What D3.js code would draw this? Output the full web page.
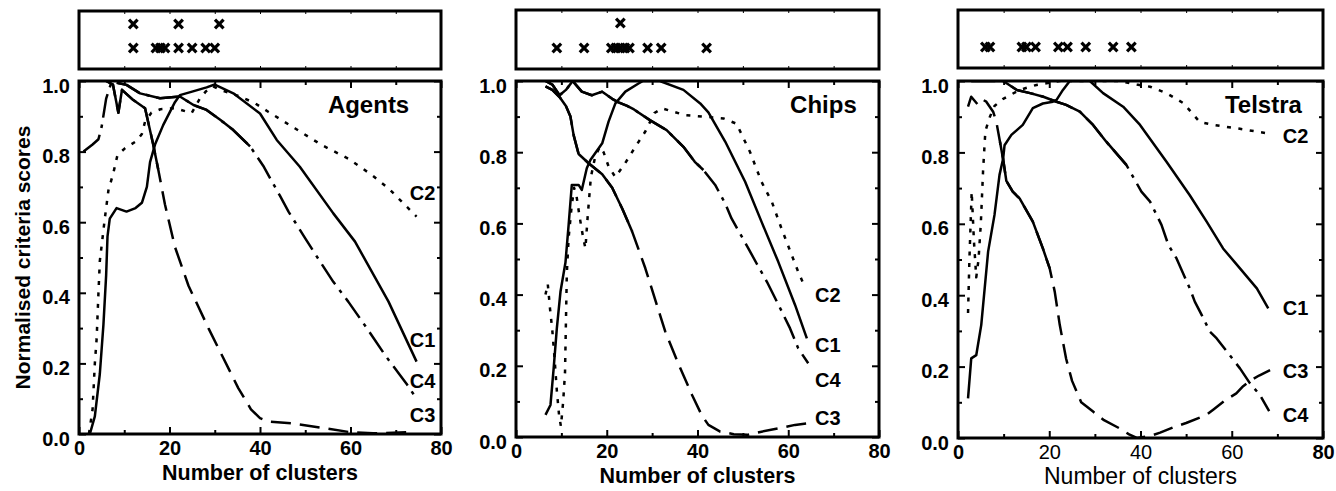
<!DOCTYPE html>
<html><head><meta charset="utf-8">
<script src="https://cdn.jsdelivr.net/npm/d3@7"></script>
<style>
html,body{margin:0;padding:0;background:#fff;}
svg{display:block;}
text{font-family:"Liberation Sans",Arial,Helvetica,sans-serif;fill:#000;}
</style></head>
<body><svg id="chart" width="1336" height="491"></svg>
<script>
// ---------- DATA ----------
const datasets = ["Agents", "Chips", "Telstra"];
const seriesNames = ["C1", "C2", "C3", "C4"];
const xTickValues = [0, 20, 40, 60, 80];
const xTickLabels = ["0", "20", "40", "60", "80"];
const xMinorTicks = [10, 30, 50, 70];
const yTickValues = [0, 0.2, 0.4, 0.6, 0.8, 1.0];
const yTickLabels = ["0.0", "0.2", "0.4", "0.6", "0.8", "1.0"];
const yMinorTicks = [0.1, 0.3, 0.5, 0.7, 0.9];
const xTitle = "Number of clusters";
const yTitle = "Normalised criteria scores";

// Agents
const agentsC1 = [[2.4,0],[3.5,0.05],[4.6,0.17],[5.4,0.31],[6,0.45],[6.3,0.56],[6.8,0.61],[8.3,0.64],[10.5,0.63],[12.5,0.64],[13.9,0.655],[15,0.7],[15.7,0.77],[16.8,0.82],[18.6,0.875],[21.2,0.94],[22.3,0.96],[25,0.97],[28.2,0.982],[30,0.99],[34.1,0.965],[40,0.908],[43.7,0.833],[48.8,0.757],[56.2,0.625],[61,0.545],[68.4,0.375],[74.6,0.205]];
const agentsC2 = [[2.2,0],[3,0.07],[3.5,0.2],[3.9,0.27],[4.3,0.4],[4.6,0.49],[5.7,0.61],[6.5,0.69],[7.6,0.74],[8.5,0.79],[10.2,0.81],[12.7,0.83],[13.9,0.85],[14.6,0.885],[16,0.91],[18,0.92],[21.2,0.923],[24.9,0.909],[26.7,0.95],[28,0.97],[29.6,0.985],[31.2,0.975],[35.6,0.956],[38.9,0.937],[41.8,0.913],[47.7,0.866],[53.6,0.819],[59.5,0.78],[64.7,0.734],[68.4,0.696],[74.6,0.616]];
const agentsC3 = [[6,1.0],[7.5,0.99],[8.7,0.91],[9.5,0.975],[12,0.946],[14.6,0.923],[16.4,0.82],[17.5,0.75],[19,0.65],[21.2,0.53],[24.2,0.42],[28.6,0.3],[31.2,0.233],[35.2,0.13],[38,0.07],[40,0.045],[42,0.035],[47,0.03],[54,0.017],[60,0.005],[65,0.002],[73,0.005]];
const agentsC4 = [[1,0.8],[2,0.81],[3,0.82],[4.3,0.835],[5,0.87],[6,0.95],[7,0.99],[8.3,0.995],[10.5,0.989],[13.5,0.965],[17.9,0.951],[22.3,0.956],[25.3,0.932],[28.2,0.918],[31.2,0.89],[34.1,0.861],[37.8,0.815],[40.7,0.76],[44.4,0.675],[46.3,0.63],[50,0.554],[53.3,0.488],[56.2,0.431],[59.5,0.375],[63.6,0.3],[67.6,0.224],[72.5,0.14],[74.6,0.1]];
const agentsBestUpper = [12, 22, 31];
const agentsBestLower = [12, 17, 18, 19, 22, 25, 28, 30];

// Chips
const chipsC1 = [[6.5,0.062],[7.6,0.09],[8.3,0.193],[9,0.305],[9.8,0.408],[10.9,0.49],[11.6,0.596],[12.3,0.708],[13.8,0.708],[14.5,0.694],[15.6,0.755],[16.4,0.778],[19,0.825],[20.4,0.886],[21.9,0.937],[24.1,0.97],[27,0.993],[28,1.0],[31.7,1.0],[36.9,0.975],[40.6,0.937],[42.4,0.912],[46.1,0.83],[50.5,0.717],[54.1,0.605],[57.8,0.492],[61.5,0.371],[64.1,0.277]];
const chipsC2 = [[6.5,0.4],[7,0.43],[7.5,0.36],[8,0.3],[8.5,0.22],[9,0.13],[9.5,0.06],[9.9,0.03],[10.4,0.1],[10.8,0.18],[11.2,0.46],[11.6,0.56],[12.2,0.64],[12.8,0.7],[13.3,0.68],[14,0.62],[14.8,0.56],[15.3,0.53],[15.8,0.62],[16.5,0.73],[17.5,0.79],[18.5,0.815],[19.3,0.8],[20.4,0.76],[21.9,0.73],[24.1,0.77],[26.3,0.815],[28.5,0.858],[30.5,0.91],[32.2,0.923],[37.3,0.904],[41.3,0.9],[45.7,0.895],[48.6,0.88],[51.6,0.8],[54.1,0.717],[56.4,0.66],[58.5,0.586],[60.8,0.51],[62.2,0.464],[63.7,0.42]];
const chipsC3 = [[6.5,0.985],[8,0.975],[9.6,0.955],[11,0.93],[12,0.9],[12.7,0.848],[13.8,0.795],[16,0.769],[19,0.738],[21.2,0.7],[23.4,0.642],[25.6,0.577],[28.5,0.474],[32.9,0.296],[35.9,0.202],[38.8,0.118],[40.9,0.062],[42.4,0.034],[45,0.015],[48,0.008],[51,0.006],[54.1,0.015],[57.8,0.024],[61.5,0.034],[64.1,0.038]];
const chipsC4 = [[6.5,1.0],[8,0.99],[9.6,0.96],[11,0.975],[12.5,1.0],[13.5,0.985],[14.5,0.97],[16.7,0.96],[19,0.97],[21.2,0.95],[22.6,0.94],[24.5,0.93],[26,0.92],[29.5,0.89],[33.2,0.862],[36.9,0.815],[39.4,0.773],[41.3,0.75],[43.9,0.708],[46.1,0.656],[47.5,0.614],[51.2,0.53],[53,0.488],[55.3,0.436],[58.6,0.352],[60.4,0.305],[62.2,0.249],[64.4,0.207]];
const chipsBestUpper = [23];
const chipsBestLower = [9, 15, 21, 22, 23, 24, 25, 29, 32, 42];

// Telstra
const telstraC1 = [[2.2,0.111],[2.9,0.223],[4,0.232],[5.1,0.317],[6.6,0.522],[8,0.625],[9.1,0.737],[9.9,0.783],[10.2,0.82],[11.7,0.849],[14.2,0.877],[16.4,0.924],[18.6,0.937],[20.8,0.942],[21.6,0.947],[23,0.975],[24.5,1.0],[28.9,1.0],[31.8,0.966],[36.2,0.928],[39.9,0.877],[45.7,0.774],[50.8,0.68],[54.5,0.606],[58.1,0.531],[61.8,0.475],[65.5,0.419],[68,0.363]];
const telstraC2 = [[2.2,0.35],[2.5,0.5],[3,0.69],[3.5,0.55],[4,0.45],[4.5,0.5],[5,0.6],[5.5,0.75],[6,0.86],[7,0.9],[8,0.93],[9.9,0.95],[13.5,0.975],[17.2,0.989],[22.3,1.0],[35.5,1.0],[39.2,0.99],[42.1,0.984],[45.7,0.966],[49.4,0.938],[53,0.885],[56,0.877],[61.8,0.866],[68,0.853]];
const telstraC3 = [[2.2,0.928],[2.9,0.956],[4.4,0.933],[5.5,0.947],[6.2,0.942],[7.7,0.914],[8.4,0.886],[9.2,0.83],[9.9,0.78],[10.6,0.72],[12,0.69],[13.5,0.671],[16.4,0.606],[18.6,0.531],[20.1,0.475],[21.2,0.41],[22.3,0.317],[23.7,0.222],[25,0.16],[26,0.13],[27,0.1],[29.6,0.074],[32,0.05],[35.4,0.027],[37.5,0.01],[39.2,0],[42,0.005],[44.3,0.015],[47.2,0.03],[50,0.042],[54.5,0.065],[56,0.08],[58.5,0.105],[61,0.125],[62.5,0.145],[64,0.16],[66,0.175],[68.4,0.19]];
const telstraC4 = [[2.9,1.0],[5,1.0],[8,1.0],[9.9,1.0],[12.9,0.975],[15.8,0.966],[18.7,0.956],[21.6,0.942],[23.7,0.933],[26.7,0.914],[29.6,0.877],[32.5,0.83],[36.9,0.765],[40.2,0.69],[42.1,0.662],[44.6,0.597],[46.1,0.541],[47.9,0.503],[50.8,0.419],[51.9,0.382],[53.4,0.345],[55.2,0.298],[56.7,0.279],[61.8,0.195],[64,0.153],[66.2,0.12],[68.2,0.075]];
const telstraBestUpper = [];
const telstraBestLower = [6, 7, 14, 15, 17, 22, 24, 28, 34, 38];

// ---------- LAYOUT / STYLE ----------
const panels = [
  {name:"Agents", series:[agentsC1,agentsC2,agentsC3,agentsC4], upper:agentsBestUpper, lower:agentsBestLower,
   x0:79, x1:441, y0:81, y1:434, sy0:11, sy1:69, titleX:55, labelX:73.1,
   labelY:{C1:0.246,C2:0.663,C3:0.034,C4:0.13}, solid:{C3:[6,17.5],C4:[8,40]}, showYTitle:true, regularTicks:false},
  {name:"Chips", series:[chipsC1,chipsC2,chipsC3,chipsC4], upper:chipsBestUpper, lower:chipsBestLower,
   x0:516, x1:879, y0:81, y1:437, sy0:10, sy1:69, titleX:60.4, labelX:65.9,
   labelY:{C1:0.239,C2:0.379,C3:0.034,C4:0.14}, solid:{C3:[6,25.6],C4:[6,43]}, showYTitle:false, regularTicks:false},
  {name:"Telstra", series:[telstraC1,telstraC2,telstraC3,telstraC4], upper:telstraBestUpper, lower:telstraBestLower,
   x0:958, x1:1323, y0:81, y1:438, sy0:10, sy1:68, titleX:58.5, labelX:71.2,
   labelY:{C1:0.345,C2:0.826,C3:0.168,C4:0.045}, solid:{C3:[9,20.1],C4:[2,40]}, showYTitle:false, regularTicks:true}
];
const dash = {C1:null, C2:"4,7.5", C3:"20,9", C4:"24,7,3.5,7"};
const LW = 2.5;

const svg = d3.select("#chart");

panels.forEach(p => {
  const xs = d3.scaleLinear().domain([0,80]).range([p.x0, p.x1]);
  const ys = d3.scaleLinear().domain([0,1]).range([p.y1, p.y0]);
  const g = svg.append("g");

  // ---- top strip ----
  const rowScale = d3.scalePoint().domain(["upper","lower"]).range([p.sy0 + 13, p.sy1 - 21]);
  const strip = g.append("g");
  strip.append("rect").attr("x",p.x0).attr("y",p.sy0).attr("width",p.x1-p.x0).attr("height",p.sy1-p.sy0)
    .attr("fill","none").attr("stroke","#000").attr("stroke-width",3);
  [["upper",p.upper],["lower",p.lower]].forEach(([row, vals]) => {
    strip.selectAll(null).data(vals).enter().append("path")
      .attr("transform", d => `translate(${xs(d)},${rowScale(row)})`)
      .attr("d","M-4.3,-4.3L4.3,4.3M-4.3,4.3L4.3,-4.3")
      .attr("stroke","#000").attr("stroke-width",3.2).attr("fill","none");
  });
  const stripTop = d3.axisTop(xs).tickValues(xTickValues.concat(xMinorTicks)).tickSize(-3).tickSizeOuter(0).tickFormat("");
  const stripBot = d3.axisBottom(xs).tickValues(xTickValues.concat(xMinorTicks)).tickSize(-3).tickSizeOuter(0).tickFormat("");
  strip.append("g").attr("transform",`translate(0,${p.sy0})`).call(stripTop);
  strip.append("g").attr("transform",`translate(0,${p.sy1})`).call(stripBot);

  // ---- axes ticks (inward on all sides) ----
  const addAxis = (axis, tr) => {
    const a = g.append("g").attr("transform", tr).call(axis);
    a.select(".domain").remove();
    a.selectAll("line").attr("stroke","#000").attr("stroke-width",2);
    return a;
  };
  const bottom = addAxis(d3.axisBottom(xs).tickValues(xTickValues).tickSize(-7).tickPadding(0)
      .tickFormat((d,i)=>xTickLabels[i]), `translate(0,${p.y1})`);
  bottom.selectAll("text").attr("y",21).attr("dy",0)
    .style("font-size","20px")
    .style("font-weight",(d)=> (p.regularTicks && d>0 && d<80) ? "normal" : "bold");
  addAxis(d3.axisBottom(xs).tickValues(xMinorTicks).tickSize(-4).tickFormat(""), `translate(0,${p.y1})`);
  addAxis(d3.axisTop(xs).tickValues(xTickValues).tickSize(-7).tickFormat(""), `translate(0,${p.y0})`);
  addAxis(d3.axisTop(xs).tickValues(xMinorTicks).tickSize(-4).tickFormat(""), `translate(0,${p.y0})`);
  const left = addAxis(d3.axisLeft(ys).tickValues(yTickValues).tickSize(-7).tickPadding(9)
      .tickFormat((d,i)=>yTickLabels[i]), `translate(${p.x0},0)`);
  left.selectAll("text").attr("dy","11px").style("font-size","20px").style("font-weight","bold");
  addAxis(d3.axisLeft(ys).tickValues(yMinorTicks).tickSize(-4).tickFormat(""), `translate(${p.x0},0)`);
  addAxis(d3.axisRight(ys).tickValues(yTickValues).tickSize(-7).tickFormat(""), `translate(${p.x1},0)`);
  addAxis(d3.axisRight(ys).tickValues(yMinorTicks).tickSize(-4).tickFormat(""), `translate(${p.x1},0)`);
  g.selectAll("g.tick text").attr("fill","#000").style("font-family","'Liberation Sans',Arial,sans-serif");

  // ---- curves ----
  const line = d3.line().x(d=>xs(d[0])).y(d=>ys(d[1]));
  const clipId = "clip-" + p.name;
  g.append("clipPath").attr("id",clipId).append("rect")
    .attr("x",p.x0).attr("y",p.y0-1).attr("width",p.x1-p.x0).attr("height",p.y1-p.y0+2);
  const curves = g.append("g").attr("clip-path",`url(#${clipId})`);
  p.series.forEach((data, i) => {
    const nm = seriesNames[i];
    curves.append("path").datum(data).attr("d", line)
      .attr("fill","none").attr("stroke","#000").attr("stroke-width",LW)
      .attr("stroke-linejoin","round")
      .attr("stroke-dasharray", dash[nm]);
    if (p.solid[nm]) {
      const [a,b] = p.solid[nm];
      curves.append("path").datum(data.filter(d=>d[0]>=a && d[0]<=b)).attr("d", line)
        .attr("fill","none").attr("stroke","#000").attr("stroke-width",LW).attr("stroke-linejoin","round");
    }
    g.append("text").attr("x", xs(p.labelX)).attr("y", ys(p.labelY[nm]))
      .style("font-size","20px").style("font-weight","bold").text(nm);
  });

  // ---- frame ----
  g.append("rect").attr("x",p.x0).attr("y",p.y0).attr("width",p.x1-p.x0).attr("height",p.y1-p.y0)
    .attr("fill","none").attr("stroke","#000").attr("stroke-width",3);

  // ---- titles ----
  g.append("text").attr("x", xs(p.titleX)).attr("y", ys(0.91))
    .style("font-size","24px").style("font-weight","bold").text(p.name);
  g.append("text").attr("x", (p.x0+p.x1)/2).attr("y", p.y1 + 46).attr("text-anchor","middle")
    .style("font-size", p.regularTicks ? "23px" : "21.5px")
    .style("font-weight", p.regularTicks ? "normal" : "bold").text(xTitle);
  if (p.showYTitle) {
    g.append("text").attr("transform",`translate(30,${(p.y0+p.y1)/2}) rotate(-90)`)
      .attr("text-anchor","middle").style("font-size","21px").style("font-weight","bold").text(yTitle);
  }
});
</script></body></html>
